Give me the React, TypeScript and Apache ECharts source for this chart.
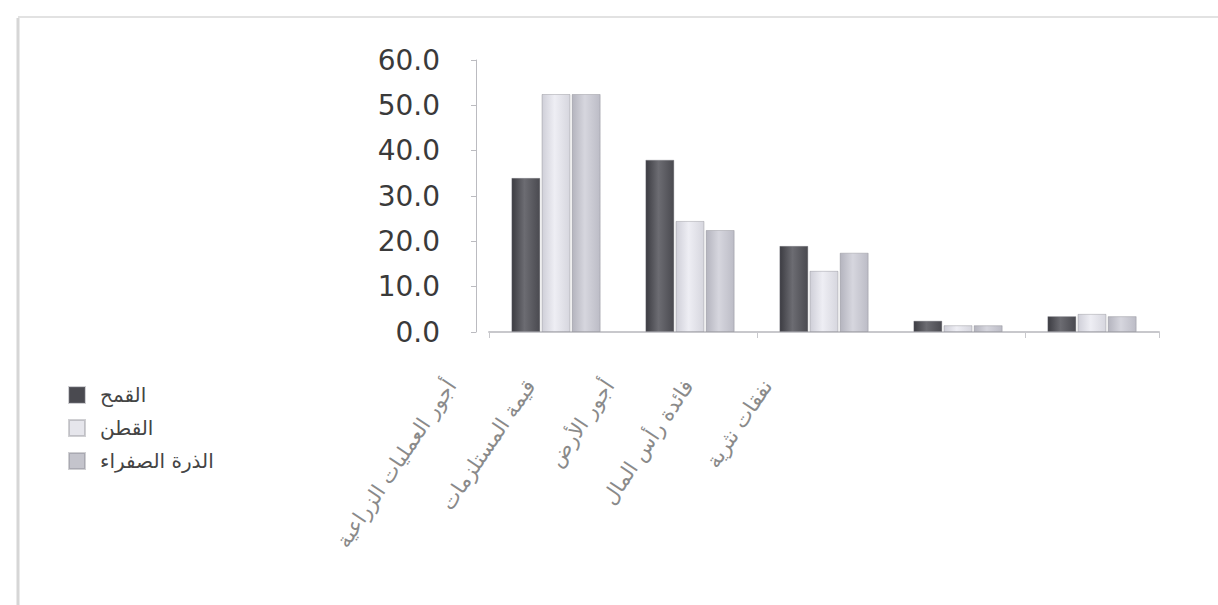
import React, { useEffect, useRef } from "react";
import * as echarts from "echarts";

const categories = [
  "أجور العمليات الزراعية",
  "قيمة المستلزمات",
  "أجور الأرض",
  "فائدة رأس المال",
  "نفقات نثرية",
];
const seriesNames = ["القمح", "القطن", "الذرة الصفراء"];
const wheat = [34, 38, 19, 2.5, 3.5];
const cotton = [52.5, 24.5, 13.5, 1.5, 4];
const corn = [52.5, 22.5, 17.5, 1.5, 3.5];
const yTicks = { min: 0, max: 60, interval: 10 };

function grad(a: string, b: string, c: string) {
  return new echarts.graphic.LinearGradient(0, 0, 1, 0, [
    { offset: 0, color: a },
    { offset: 0.45, color: b },
    { offset: 1, color: c },
  ]);
}

export default function App() {
  const ref = useRef<HTMLDivElement>(null);
  useEffect(() => {
    document.body.style.margin = "0";
    const chart = echarts.init(ref.current!, undefined, { renderer: "svg" });
    const fills = [
      grad("#3c3c42", "#6c6c72", "#4a4a50"),
      grad("#cfcfd8", "#eeeef4", "#d6d6de"),
      grad("#b4b4be", "#d6d6de", "#bcbcc6"),
    ];
    const legendColors = ["#4a4a50", "#e6e6ec", "#c4c4cc"];
    const data = [wheat, cotton, corn];
    chart.setOption({
      animation: false,
      backgroundColor: "#ffffff",
      grid: [
        { left: 489, right: 59, top: 60, bottom: 273 },
        { left: 412, width: 395, top: 60, bottom: 273 },
      ],
      legend: {
        orient: "vertical",
        left: 63,
        top: 380,
        itemWidth: 16,
        itemHeight: 16,
        itemGap: 13,
        icon: "rect",
        textStyle: {
          fontFamily: "DejaVu Sans",
          fontSize: 20,
          color: "#444",
          padding: [0, 0, 0, 10],
        },
        data: seriesNames.map((n, i) => ({
          name: n,
          itemStyle: { color: legendColors[i] },
        })),
      },
      xAxis: [
        {
          type: "category",
          gridIndex: 0,
          data: categories,
          axisLabel: { show: false },
          axisLine: { lineStyle: { color: "#c8c8cc", width: 2 } },
          axisTick: { show: true, length: 6, lineStyle: { color: "#c8c8cc" } },
        },
        {
          type: "category",
          gridIndex: 1,
          data: categories,
          axisLine: { show: false },
          axisTick: { show: false },
          axisLabel: {
            rotate: 56,
            margin: 50,
            fontFamily: "DejaVu Sans",
            fontSize: 21,
            color: "#8a8a8a",
            interval: 0,
          },
        },
      ],
      yAxis: [
        {
          type: "value",
          gridIndex: 0,
          min: yTicks.min,
          max: yTicks.max,
          interval: yTicks.interval,
          offset: 13,
          axisLine: { show: true, lineStyle: { color: "#bbbbc0" } },
          axisTick: { show: true, length: 5, lineStyle: { color: "#bbbbc0" } },
          splitLine: { show: false },
          axisLabel: {
            margin: 36,
            fontFamily: "DejaVu Sans",
            fontSize: 28,
            color: "#3a3a3a",
            formatter: (v: number) => v.toFixed(1),
          },
        },
        {
          type: "value",
          gridIndex: 1,
          min: yTicks.min,
          max: yTicks.max,
          show: false,
        },
      ],
      series: seriesNames.map((n, i) => ({
        name: n,
        type: "bar",
        xAxisIndex: 0,
        yAxisIndex: 0,
        data: data[i],
        barWidth: 29,
        barGap: "4%",
        itemStyle: { color: fills[i], borderColor: "rgba(120,120,130,0.35)", borderWidth: 1 },
      })),
      graphic: [
        {
          type: "line",
          shape: { x1: 18, y1: 18, x2: 18, y2: 605 },
          style: { stroke: "#d6d6d6", lineWidth: 3 },
        },
        {
          type: "line",
          shape: { x1: 18, y1: 17, x2: 1218, y2: 17 },
          style: { stroke: "#e2e2e2", lineWidth: 2 },
        },
      ],
    });
    return () => chart.dispose();
  }, []);
  return <div ref={ref} style={{ width: 1218, height: 605 }} />;
}
